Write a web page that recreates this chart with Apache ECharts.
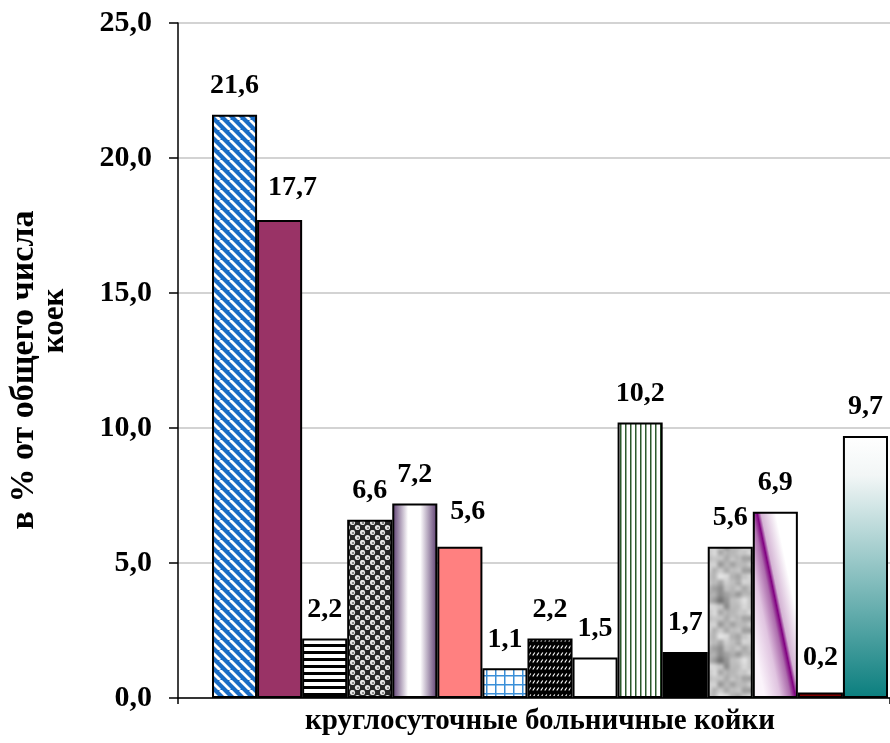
<!DOCTYPE html>
<html>
<head>
<meta charset="utf-8">
<script src="https://cdn.jsdelivr.net/npm/echarts@6/dist/echarts.min.js"></script>
<style>
html,body{margin:0;padding:0;background:#fff;}
#chart{width:890px;height:743px;}
</style>
</head>
<body>
<div id="chart"></div>
<script>
// ---- data ----
var categories = ['круглосуточные больничные койки'];
var values = [21.6, 17.7, 2.2, 6.6, 7.2, 5.6, 1.1, 2.2, 1.5, 10.2, 1.7, 5.6, 6.9, 0.2, 9.7];
var yTicks = [0, 5, 10, 15, 20, 25];
var xTitle = 'круглосуточные больничные койки';
var yTitleLines = ['в % от общего числа', 'коек'];

// ---- styles ----
var labelShift = [[0,0],[13,-3],[0,0],[0,0],[0,0],[8,-6],[0,0],[0,0],[0,0],[0,0],[0,0],[0,0],[0,0],[0,-6],[0,0]];

function tile(w, h, draw) {
  var c = document.createElement('canvas');
  c.width = w; c.height = h;
  var ctx = c.getContext('2d');
  draw(ctx, w, h);
  return { image: c, repeat: 'repeat' };
}
function hash(x, y) {
  var s = Math.sin(x * 127.1 + y * 311.7) * 43758.5453;
  return s - Math.floor(s);
}
var fills = [];
// 1 blue with white diagonal stripes
fills.push(tile(10, 10, function (c, w, h) {
  c.fillStyle = '#1a6cc4'; c.fillRect(0, 0, w, h);
  c.strokeStyle = '#ffffff'; c.lineWidth = 2.8;
  [-10, 0, 10].forEach(function (o) { c.beginPath(); c.moveTo(o, 0); c.lineTo(o + 10, 10); c.stroke(); });
}));
// 2 plum
fills.push('#993366');
// 3 horizontal black lines
fills.push(tile(4, 7, function (c, w, h) {
  c.fillStyle = '#fff'; c.fillRect(0, 0, w, h);
  c.fillStyle = '#000'; c.fillRect(0, 0, w, 3);
}));
// 4 balls
fills.push(tile(10, 10, function (c, w, h) {
  c.fillStyle = '#262626'; c.fillRect(0, 0, w, h);
  [[2.5, 2.5], [7.5, 7.5]].forEach(function (p) {
    c.fillStyle = '#e8e8e8'; c.beginPath(); c.arc(p[0], p[1], 2.6, 0, Math.PI * 2); c.fill();
    c.fillStyle = '#777'; c.beginPath(); c.arc(p[0] + 0.5, p[1] + 0.5, 1.1, 0, Math.PI * 2); c.fill();
  });
}));
// 5 horizontal purple-white-purple gradient
fills.push(new echarts.graphic.LinearGradient(0, 0, 1, 0, [
  { offset: 0, color: '#5a3a6e' }, { offset: 0.35, color: '#ffffff' },
  { offset: 0.62, color: '#ffffff' }, { offset: 1, color: '#5a3a6e' }
]));
// 6 salmon
fills.push('#ff8080');
// 7 blue grid
fills.push(tile(9, 9, function (c, w, h) {
  c.fillStyle = '#fff'; c.fillRect(0, 0, w, h);
  c.fillStyle = '#3a8fd8'; c.fillRect(0, 0, w, 1.5); c.fillRect(0, 0, 1.5, h);
}));
// 8 black with white dashes
fills.push(tile(4, 7, function (c, w, h) {
  c.fillStyle = '#000'; c.fillRect(0, 0, w, h);
  c.strokeStyle = '#fff'; c.lineWidth = 1.2;
  c.beginPath(); c.moveTo(0.8, 4.5); c.lineTo(2.8, 1.5); c.stroke();
}));
// 9 white
fills.push('#ffffff');
// 10 green vertical lines
fills.push(tile(5, 4, function (c, w, h) {
  c.fillStyle = '#fff'; c.fillRect(0, 0, w, h);
  c.fillStyle = '#2d5a2d'; c.fillRect(0, 0, 1.5, h);
}));
// 11 black
fills.push('#000000');
// 12 granite texture (deterministic)
fills.push(tile(60, 60, function (c, w, h) {
  var img = c.createImageData(w, h);
  for (var y = 0; y < h; y++) {
    for (var x = 0; x < w; x++) {
      var v = 0, amp = 0.5, tot = 0;
      [6, 12, 30].forEach(function (cell) {
        var gx = x / cell, gy = y / cell;
        var x0 = Math.floor(gx), y0 = Math.floor(gy);
        var fx = gx - x0, fy = gy - y0;
        var n = w / cell;
        var a = hash(x0 % n, y0 % n), b = hash((x0 + 1) % n, y0 % n);
        var cc = hash(x0 % n, (y0 + 1) % n), d = hash((x0 + 1) % n, (y0 + 1) % n);
        fx = fx * fx * (3 - 2 * fx); fy = fy * fy * (3 - 2 * fy);
        var val = a + (b - a) * fx + (cc - a) * fy + (a - b - cc + d) * fx * fy;
        v += val * amp; tot += amp; amp *= 0.7;
      });
      v /= tot;
      var g = Math.round(120 + v * 140);
      var i = (y * w + x) * 4;
      img.data[i] = g; img.data[i + 1] = g; img.data[i + 2] = g; img.data[i + 3] = 255;
    }
  }
  c.putImageData(img, 0, 0);
}));
// 13 diagonal purple gradient
fills.push(new echarts.graphic.LinearGradient(-0.13, 0.533, 1.176, 0.467, [
  { offset: 0, color: '#fbf4fb' }, { offset: 0.25, color: '#e0c4e0' },
  { offset: 0.42, color: '#ad6dad' }, { offset: 0.5, color: '#800080' },
  { offset: 0.56, color: '#d4b4d4' }, { offset: 0.8, color: '#ffffff' },
  { offset: 1, color: '#ffffff' }
]));
// 14 dark red
fills.push('#800000');
// 15 white to teal vertical gradient
fills.push(new echarts.graphic.LinearGradient(0, 0, 0, 1, [
  { offset: 0, color: '#ffffff' }, { offset: 0.15, color: '#f2f6f6' },
  { offset: 1, color: '#0a7e7e' }
]));

function fmt(v) { return v.toFixed(1).replace('.', ','); }

var serif = '"Liberation Serif", "Times New Roman", serif';
var yMin = yTicks[0], yMax = yTicks[yTicks.length - 1], yStep = yTicks[1] - yTicks[0];

var series = values.map(function (v, i) {
  return {
    type: 'bar',
    name: 'b' + i,
    xAxisIndex: 1, yAxisIndex: 1,
    data: [v],
    barGap: '0%',
    barCategoryGap: '0%',
    itemStyle: { color: fills[i], borderColor: '#000', borderWidth: 2 },
    label: {
      show: true, position: 'top', distance: 15,
      offset: labelShift[i],
      formatter: function (p) { return fmt(p.value); },
      fontFamily: serif, fontWeight: 'bold', fontSize: 28, color: '#000'
    },
    animation: false
  };
});

var chart = echarts.init(document.getElementById('chart'), null, { renderer: 'canvas' });
chart.setOption({
  backgroundColor: '#ffffff',
  animation: false,
  grid: [
    { left: 178, right: 0, top: 23, height: 675, containLabel: false },
    { left: 212, width: 676, top: 23, height: 675, containLabel: false }
  ],
  xAxis: [{
    gridIndex: 0,
    type: 'category',
    data: categories,
    axisLine: { lineStyle: { color: '#000', width: 1.5 } },
    axisTick: { show: true, length: 6, lineStyle: { color: '#000', width: 1.5 } },
    axisLabel: { show: false },
    name: xTitle,
    nameLocation: 'middle',
    nameGap: 9,
    nameTextStyle: { fontFamily: serif, fontWeight: 'bold', fontSize: 29, color: '#000', padding: [0, 0, 0, 12], verticalAlign: 'top' }
  }, {
    gridIndex: 1,
    type: 'category',
    data: categories,
    show: false
  }],
  yAxis: [{
    gridIndex: 0,
    type: 'value',
    min: yMin, max: yMax, interval: yStep,
    axisLine: { show: true, lineStyle: { color: '#000', width: 1.5 } },
    axisTick: { show: true, length: 9, lineStyle: { color: '#000', width: 1.5 } },
    axisLabel: { formatter: fmt, margin: 26, fontFamily: serif, fontWeight: 'bold', fontSize: 30, color: '#000' },
    splitLine: { show: true, lineStyle: { color: '#c4c4c4', width: 1.5 } }
  }, {
    gridIndex: 1,
    type: 'value',
    min: yMin, max: yMax, interval: yStep,
    show: false,
    splitLine: { show: false }
  }],
  graphic: [
    { type: 'text', x: 24, y: 370, rotation: Math.PI / 2,
      style: { text: yTitleLines[0], font: 'bold 34px ' + serif, fill: '#000', align: 'center', verticalAlign: 'middle' } },
    { type: 'text', x: 55, y: 321, rotation: Math.PI / 2,
      style: { text: yTitleLines[1], font: 'bold 31px ' + serif, fill: '#000', align: 'center', verticalAlign: 'middle' } }
  ],
  series: series
});
</script>
</body>
</html>
